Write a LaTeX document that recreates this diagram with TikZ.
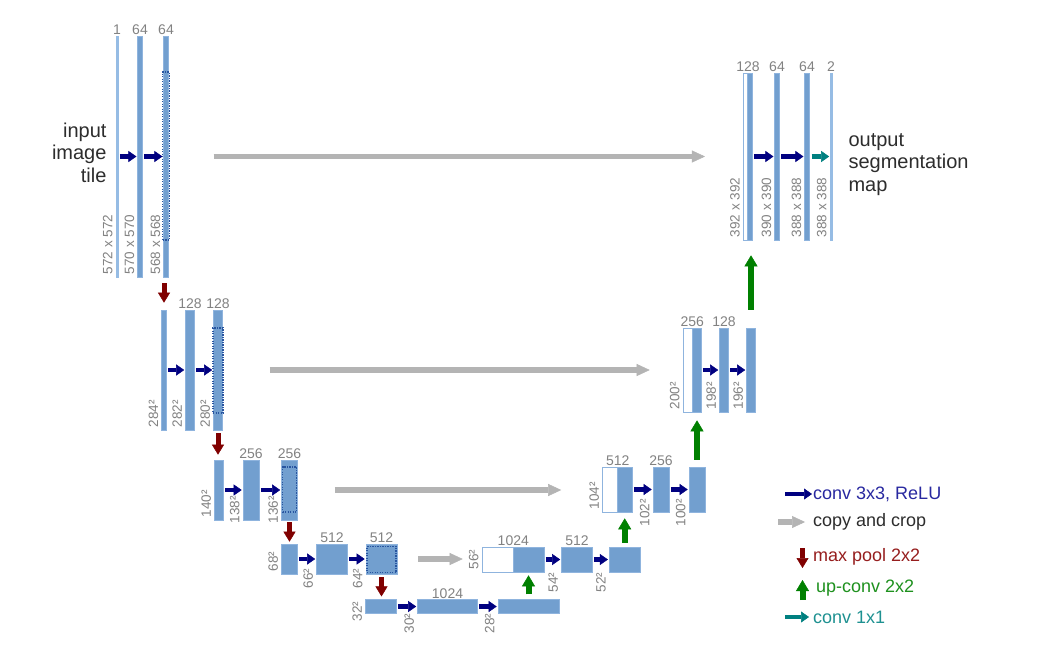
\documentclass[tikz,border=0pt]{standalone}
\usepackage{fontspec}
\setmainfont{Liberation Sans}
\usepackage{xcolor}
\usepackage{tikz}
\usetikzlibrary{arrows.meta, positioning}

\definecolor{boxblue}{RGB}{114,159,207}
\definecolor{boxline}{RGB}{143,180,222}
\definecolor{thinblue}{RGB}{150,188,228}
\definecolor{dashblue}{RGB}{40,85,160}
\definecolor{convnavy}{RGB}{0,0,128}
\definecolor{pooldred}{RGB}{128,0,0}
\definecolor{upgreen}{RGB}{0,128,0}
\definecolor{outteal}{RGB}{0,128,128}
\definecolor{copygray}{RGB}{180,180,180}
\definecolor{labgray}{RGB}{130,130,130}
\definecolor{textdark}{RGB}{45,45,45}
\definecolor{legnavy}{RGB}{40,40,160}
\definecolor{legred}{RGB}{150,30,30}
\definecolor{leggreen}{RGB}{30,145,30}
\definecolor{legteal}{RGB}{30,145,145}

\begin{document}
\begin{tikzpicture}[
    x=1pt, y=-1pt,
    fmap/.style={rectangle, draw=boxline, fill=boxblue, line width=0.6pt, inner sep=0pt},
    thinmap/.style={fmap, draw=thinblue, fill=thinblue},
    skipmap/.style={fmap, fill=white},
    cropbox/.style={rectangle, draw=dashblue, line width=1.2pt, dash pattern=on 1.4pt off 1.1pt, inner sep=0pt},
    lev1/.style={minimum height=241pt}, lev2/.style={minimum height=120pt},
    lev3/.style={minimum height=60pt}, lev4/.style={minimum height=30pt},
    lev5/.style={minimum height=13.5pt},
    rlev1/.style={minimum height=167pt}, rlev2/.style={minimum height=84pt},
    rlev3/.style={minimum height=45pt}, rlev4/.style={minimum height=25pt},
    chlab/.style={inner sep=1pt, text=labgray, font=\fontsize{14}{15}\selectfont},
    dimlab/.style={rotate=90, anchor=south west, inner sep=3pt, text=labgray, font=\fontsize{13.5}{15}\selectfont},
    maintext/.style={inner sep=2pt, text=textdark, font=\fontsize{20}{22.5}\selectfont},
    legtext/.style={anchor=west, inner sep=1pt, font=\fontsize{18}{20}\selectfont},
    convarrow/.style={draw=convnavy, line width=4.5pt, -{Triangle[length=8pt,width=11pt,line width=0.5pt]}, shorten <=1.5pt, shorten >=1pt},
    outarrow/.style={draw=outteal, line width=4.5pt, -{Triangle[length=8pt,width=11pt,line width=0.5pt]}},
    copyarrow/.style={draw=copygray, line width=5.5pt, -{Triangle[length=13pt,width=12pt,line width=0.5pt]}},
    poolarrow/.style={draw=pooldred, line width=5pt, -{Triangle[length=10pt,width=12pt,line width=0.5pt]}},
    uparrow/.style={draw=upgreen, line width=6pt, -{Triangle[length=11pt,width=13pt,line width=0.5pt]}}
]
\fill[white] (0,0) rectangle (1064,664);
\useasboundingbox (0,0) rectangle (1064,664);

% Contracting path: level 1
\node[thinmap, lev1, minimum width=2pt] (b11) at (117,156.5) {};
\node[fmap, lev1, minimum width=4.5pt] (b12) at (140,156.5) {};
\node[fmap, lev1, minimum width=4.5pt] (b13) at (166,156.5) {};
\node[cropbox, minimum width=6.5pt, minimum height=168pt] (c13) at (166,156) {};

% level 2
\node[fmap, lev2, minimum width=4.5pt] (b21) at (164,370) {};
\node[fmap, lev2, minimum width=9pt] (b22) at (190,370) {};
\node[fmap, lev2, minimum width=9pt] (b23) at (218,370) {};
\node[cropbox, minimum width=10pt, minimum height=85pt] (c23) at (218,370.5) {};

% level 3
\node[fmap, lev3, minimum width=9pt] (b31) at (219,490) {};
\node[fmap, lev3, minimum width=16pt] (b32) at (251,490) {};
\node[fmap, lev3, minimum width=16pt] (b33) at (289.5,490) {};
\node[cropbox, minimum width=14pt, minimum height=45pt] (c33) at (289.5,489.5) {};

% level 4
\node[fmap, lev4, minimum width=16pt] (b41) at (289.5,559) {};
\node[fmap, lev4, minimum width=31pt] (b42) at (332,559) {};
\node[fmap, lev4, minimum width=31pt] (b43) at (381.5,559) {};
\node[cropbox, minimum width=29pt, minimum height=26pt] (c43) at (381.5,559.5) {};

% Bottom: level 5
\node[fmap, lev5, minimum width=31pt] (b51) at (381,606.5) {};
\node[fmap, lev5, minimum width=60pt] (b52) at (447.5,606.5) {};
\node[fmap, lev5, minimum width=61pt] (b53) at (528.5,606.5) {};

% Expansive path: level 4
\node[skipmap, rlev4, minimum width=31pt] (w41) at (497.5,559.5) {};
\node[fmap, rlev4, minimum width=31pt] (u41) at (528.5,559.5) {};
\node[fmap, rlev4, minimum width=31pt] (u42) at (577,559.5) {};
\node[fmap, rlev4, minimum width=31pt] (u43) at (624.7,559.5) {};

% level 3
\node[skipmap, rlev3, minimum width=15pt] (w31) at (610,489.5) {};
\node[fmap, rlev3, minimum width=15pt] (u31) at (625,489.5) {};
\node[fmap, rlev3, minimum width=16pt] (u32) at (661,489.5) {};
\node[fmap, rlev3, minimum width=16pt] (u33) at (697,489.5) {};

% level 2
\node[skipmap, rlev2, minimum width=9pt] (w21) at (687.5,370) {};
\node[fmap, rlev2, minimum width=9pt] (u21) at (696.5,370) {};
\node[fmap, rlev2, minimum width=9pt] (u22) at (724,370) {};
\node[fmap, rlev2, minimum width=9pt] (u23) at (751,370) {};

% level 1
\node[skipmap, rlev1, minimum width=4.5pt] (w11) at (745.5,156.5) {};
\node[fmap, rlev1, minimum width=4.5pt] (u11) at (750,156.5) {};
\node[fmap, rlev1, minimum width=4.5pt] (u12) at (777,156.5) {};
\node[fmap, rlev1, minimum width=4.5pt] (u13) at (807,156.5) {};
\node[thinmap, rlev1, minimum width=2pt] (u14) at (831,156.5) {};

% Channel counts
\node[chlab, above=0pt of b11] (n11) {1};
\node[chlab, above=0pt of b12] (n12) {64};
\node[chlab, above=0pt of b13] (n13) {64};
\node[chlab, above=0pt of b22] (n22) {128};
\node[chlab, above=0pt of b23] (n23) {128};
\node[chlab, above=0pt of b32] (n32) {256};
\node[chlab, above=0pt of b33] (n33) {256};
\node[chlab, above=0pt of b42] (n42) {512};
\node[chlab, above=0pt of b43] (n43) {512};
\node[chlab, above=0pt of b52] (n52) {1024};
\node[chlab, above=0pt of w41.north east] (m41) {1024};
\node[chlab, above=0pt of u42] (m42) {512};
\node[chlab, above=0pt of w31.north east] (m31) {512};
\node[chlab, above=0pt of u32] (m32) {256};
\node[chlab, above=0pt of w21.north east] (m21) {256};
\node[chlab, above=0pt of u22] (m22) {128};
\node[chlab, above=0pt of w11.north east] (m11) {128};
\node[chlab, above=0pt of u12] (m12) {64};
\node[chlab, above=0pt of u13] (m13) {64};
\node[chlab, above=0pt of u14] (m14) {2};

% Map sizes
\node[dimlab] (s11) at (b11.south west) {572 x 572};
\node[dimlab] (s12) at (b12.south west) {570 x 570};
\node[dimlab] (s13) at (b13.south west) {568 x 568};
\node[dimlab] (s21) at (b21.south west) {284²};
\node[dimlab] (s22) at (b22.south west) {282²};
\node[dimlab] (s23) at (b23.south west) {280²};
\node[dimlab] (s31) at (b31.south west) {140²};
\node[dimlab] (s32) at ([yshift=-6pt]b32.south west) {138²};
\node[dimlab] (s33) at ([yshift=-6pt]b33.south west) {136²};
\node[dimlab] (s41) at (b41.south west) {68²};
\node[dimlab] (s42) at ([yshift=-17pt]b42.south west) {66²};
\node[dimlab] (s43) at ([yshift=-17pt]b43.south west) {64²};
\node[dimlab] (s51) at ([yshift=-11pt]b51.south west) {32²};
\node[dimlab] (s52) at ([yshift=-23pt]b52.south west) {30²};
\node[dimlab] (s53) at ([yshift=-23pt]b53.south west) {28²};
\node[dimlab] (r41) at (w41.south west) {56²};
\node[dimlab] (r42) at ([yshift=-23pt]u42.south west) {54²};
\node[dimlab] (r43) at ([yshift=-23pt]u43.south west) {52²};
\node[dimlab] (r31) at (w31.south west) {104²};
\node[dimlab] (r32) at ([yshift=-17pt]u32.south west) {102²};
\node[dimlab] (r33) at ([yshift=-17pt]u33.south west) {100²};
\node[dimlab] (r21) at (w21.south west) {200²};
\node[dimlab] (r22) at (u22.south west) {198²};
\node[dimlab] (r23) at (u23.south west) {196²};
\node[dimlab] (r11) at (w11.south west) {392 x 392};
\node[dimlab] (r12) at (u12.south west) {390 x 390};
\node[dimlab] (r13) at (u13.south west) {388 x 388};
\node[dimlab] (r14) at (u14.south west) {388 x 388};

% Input and output texts
\node[maintext, align=right, left=7pt of b11, yshift=4pt] (intext) {input\\image\\tile};
\node[maintext, align=left, right=14pt of u14, yshift=-8pt] (outtext) {output\\segmentation\\map};

% Convolutions
\draw[convarrow] (b11) -- (b12);
\draw[convarrow] (b12) -- (b13);
\draw[convarrow] (b21) -- (b22);
\draw[convarrow] (b22) -- (b23);
\draw[convarrow] (b31) -- (b32);
\draw[convarrow] (b32) -- (b33);
\draw[convarrow] (b41) -- (b42);
\draw[convarrow] (b42) -- (b43);
\draw[convarrow] (b51) -- (b52);
\draw[convarrow] (b52) -- (b53);
\draw[convarrow] (u41) -- (u42);
\draw[convarrow] (u42) -- (u43);
\draw[convarrow] (u31) -- (u32);
\draw[convarrow] (u32) -- (u33);
\draw[convarrow] (u21) -- (u22);
\draw[convarrow] (u22) -- (u23);
\draw[convarrow] (u11) -- (u12);
\draw[convarrow] (u12) -- (u13);
\draw[outarrow, shorten <=2pt, shorten >=0.5pt] (u13) -- (u14);

% Copy and crop
\draw[copyarrow, shorten <=45pt, shorten >=38pt] (b13.east) -- (b13.east -| w11.west);
\draw[copyarrow, shorten <=47pt, shorten >=33pt] (b23.east) -- (b23.east -| w21.west);
\draw[copyarrow, shorten <=37pt, shorten >=41pt] (b33.east) -- (b33.east -| w31.west);
\draw[copyarrow, shorten <=21pt, shorten >=19pt] (b43.east) -- (b43.east -| w41.west);

% Max pooling
\draw[poolarrow, shorten <=6pt, shorten >=7pt] (b21.north |- b13.south) -- (b21.north);
\draw[poolarrow, shorten <=3pt, shorten >=5pt] (b23.south) -- (b23.south |- b31.north);
\draw[poolarrow, shorten <=2pt, shorten >=2pt] (b33.south) -- (b33.south |- b41.north);
\draw[poolarrow, shorten <=3pt, shorten >=3pt] (b43.south) -- (b43.south |- b51.north);

% Up-convolutions
\draw[uparrow, shorten <=5pt, shorten >=3pt] (b53.north) -- (b53.north |- u41.south);
\draw[uparrow, shorten <=4pt, shorten >=6pt] (u43.north) -- (u43.north |- u31.south);
\draw[uparrow, shorten <=7pt, shorten >=8pt] (u33.north) -- (u33.north |- u21.south);
\draw[uparrow, shorten <=18pt, shorten >=15pt] (u23.north) -- (u23.north |- u11.south);

% Legend
\node[legtext, text=legnavy] (lconv) at (812,494) {conv 3x3, ReLU};
\coordinate (lconvs) at (785,494);
\draw[convarrow, shorten <=0pt, shorten >=0pt] (lconvs) -- (lconv.west);
\node[legtext, text=textdark] (lcopy) at (812,522) {copy and crop};
\coordinate (lcopys) at (778,522);
\draw[copyarrow, shorten >=7pt] (lcopys) -- (lcopy.west);
\node[legtext, text=legred] (lpool) at (812,557) {max pool 2x2};
\coordinate (lpoola) at (802.5,548);
\coordinate (lpoolb) at (802.5,568);
\draw[poolarrow] (lpoola) -- (lpoolb);
\node[legtext, text=leggreen] (lup) at (815,588) {up-conv 2x2};
\coordinate (lupa) at (802.5,600);
\coordinate (lupb) at (802.5,580);
\draw[uparrow] (lupa) -- (lupb);
\node[legtext, text=legteal] (lout) at (812,617) {conv 1x1};
\coordinate (louts) at (785,617);
\draw[outarrow, shorten >=3pt] (louts) -- (lout.west);

\end{tikzpicture}
\end{document}
